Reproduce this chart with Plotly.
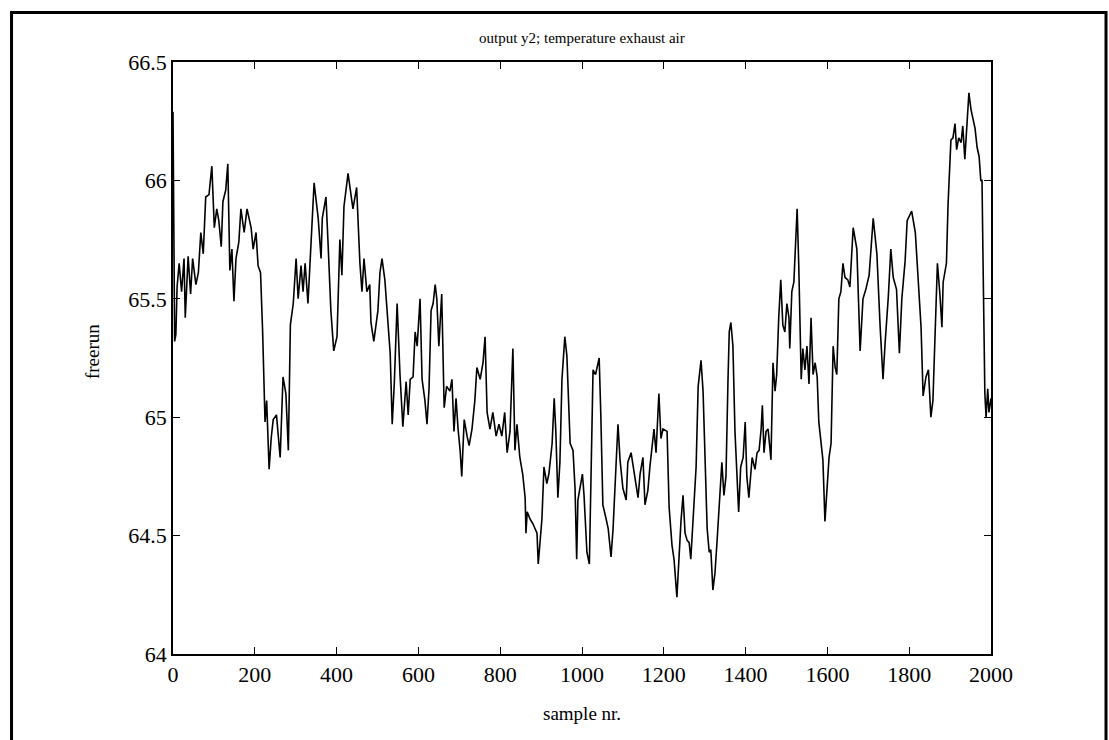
import plotly.graph_objects as go

# sample index and freerun output y2 (temperature exhaust air)
sample_nr = [
    0, 2, 4, 7, 10, 15, 21, 27, 30, 37, 43, 48, 56, 62, 68, 74, 80, 88, 95, 101,
    107, 112, 118, 122, 129, 134, 139, 144, 149, 154, 161, 166, 174, 181, 191, 196, 203, 208, 214, 219,
    225, 229, 235, 240, 245, 253, 262, 269, 276, 282, 287, 294, 301, 306, 313, 318, 323, 330, 340, 345,
    355, 362, 365, 374, 379, 386, 393, 401, 408, 413, 418, 428, 440, 449, 457, 462, 467, 474, 481, 484,
    491, 501, 506, 511, 518, 525, 531, 536, 541, 548, 555, 562, 570, 575, 580, 587, 592, 597, 604, 609,
    616, 621, 626, 631, 636, 641, 645, 650, 657, 663, 669, 677, 682, 687, 692, 697, 702, 706, 712, 719,
    724, 731, 738, 743, 751, 758, 763, 768, 775, 782, 790, 797, 804, 811, 817, 824, 831, 836, 841, 848,
    855, 861, 863, 866, 873, 880, 890, 893, 897, 902, 907, 914, 919, 927, 932, 936, 941, 946, 951, 958,
    963, 971, 978, 983, 987, 990, 995, 1001, 1005, 1012, 1018, 1022, 1027, 1033, 1042, 1046, 1051, 1059, 1064, 1071,
    1076, 1083, 1088, 1093, 1100, 1108, 1112, 1120, 1125, 1132, 1137, 1142, 1149, 1154, 1161, 1166, 1171, 1176, 1181, 1188,
    1193, 1198, 1208, 1213, 1220, 1225, 1232, 1237, 1242, 1247, 1252, 1257, 1262, 1266, 1272, 1279, 1284, 1288, 1291, 1296,
    1301, 1306, 1311, 1315, 1320, 1325, 1330, 1337, 1342, 1347, 1352, 1357, 1360, 1364, 1369, 1374, 1379, 1383, 1388, 1394,
    1399, 1403, 1408, 1416, 1423, 1428, 1433, 1438, 1441, 1445, 1450, 1455, 1462, 1467, 1472, 1476, 1481, 1486, 1491, 1496,
    1501, 1506, 1508, 1513, 1518, 1523, 1526, 1530, 1533, 1536, 1540, 1545, 1550, 1555, 1560, 1565, 1570, 1575, 1579, 1584,
    1589, 1594, 1599, 1604, 1609, 1614, 1619, 1623, 1628, 1633, 1638, 1643, 1650, 1655, 1663, 1672, 1680, 1687, 1694, 1702,
    1712, 1721, 1729, 1736, 1741, 1749, 1755, 1761, 1769, 1776, 1782, 1790, 1795, 1806, 1815, 1820, 1829, 1834, 1841, 1847,
    1853, 1858, 1864, 1869, 1875, 1880, 1883, 1891, 1895, 1897, 1902, 1907, 1912, 1916, 1921, 1927, 1931, 1936, 1941, 1946,
    1951, 1956, 1961, 1966, 1971, 1975, 1978, 1981, 1985, 1988, 1992, 1995, 2000,
]

freerun = [
    66.29, 65.80, 65.32, 65.35, 65.55, 65.65, 65.53, 65.67, 65.42, 65.68, 65.52, 65.67, 65.56, 65.61, 65.78, 65.69, 65.93, 65.94, 66.06, 65.80,
    65.88, 65.83, 65.72, 65.91, 65.96, 66.07, 65.62, 65.71, 65.49, 65.67, 65.74, 65.88, 65.78, 65.88, 65.80, 65.71, 65.78, 65.64, 65.61, 65.37,
    64.98, 65.07, 64.78, 64.91, 64.99, 65.01, 64.83, 65.17, 65.10, 64.86, 65.39, 65.48, 65.67, 65.50, 65.64, 65.53, 65.65, 65.48, 65.80, 65.99,
    65.84, 65.67, 65.84, 65.93, 65.74, 65.45, 65.28, 65.34, 65.75, 65.60, 65.89, 66.03, 65.88, 65.97, 65.65, 65.53, 65.67, 65.53, 65.56, 65.40,
    65.32, 65.45, 65.61, 65.67, 65.58, 65.40, 65.27, 64.97, 65.14, 65.48, 65.18, 64.96, 65.15, 65.01, 65.16, 65.17, 65.36, 65.30, 65.50, 65.16,
    65.07, 64.97, 65.12, 65.45, 65.48, 65.56, 65.50, 65.30, 65.52, 65.04, 65.13, 65.11, 65.16, 64.94, 65.08, 64.95, 64.86, 64.75, 64.99, 64.92,
    64.88, 64.95, 65.07, 65.21, 65.16, 65.23, 65.34, 65.02, 64.95, 65.02, 64.92, 64.97, 64.92, 65.02, 64.85, 64.94, 65.29, 64.86, 64.97, 64.83,
    64.76, 64.66, 64.51, 64.60, 64.57, 64.55, 64.51, 64.38, 64.48, 64.57, 64.79, 64.72, 64.76, 64.89, 65.08, 64.94, 64.66, 64.81, 65.16, 65.34,
    65.26, 64.89, 64.86, 64.70, 64.40, 64.65, 64.70, 64.76, 64.67, 64.43, 64.38, 64.72, 65.20, 65.18, 65.25, 65.01, 64.63, 64.57, 64.53, 64.41,
    64.53, 64.79, 64.97, 64.82, 64.70, 64.65, 64.81, 64.85, 64.79, 64.72, 64.66, 64.76, 64.83, 64.63, 64.69, 64.79, 64.86, 64.95, 64.85, 65.10,
    64.91, 64.95, 64.94, 64.62, 64.46, 64.40, 64.24, 64.43, 64.56, 64.67, 64.51, 64.48, 64.47, 64.40, 64.59, 64.79, 65.13, 65.21, 65.24, 65.11,
    64.86, 64.53, 64.43, 64.44, 64.27, 64.34, 64.47, 64.67, 64.81, 64.67, 64.75, 65.16, 65.36, 65.40, 65.30, 64.94, 64.72, 64.60, 64.79, 64.83,
    64.98, 64.75, 64.66, 64.83, 64.78, 64.85, 64.86, 64.95, 65.05, 64.85, 64.94, 64.95, 64.82, 65.23, 65.11, 65.18, 65.42, 65.58, 65.39, 65.36,
    65.48, 65.42, 65.29, 65.53, 65.57, 65.78, 65.88, 65.64, 65.30, 65.16, 65.29, 65.20, 65.30, 65.14, 65.42, 65.18, 65.23, 65.17, 64.98, 64.91,
    64.82, 64.56, 64.72, 64.83, 64.89, 65.30, 65.21, 65.18, 65.50, 65.53, 65.65, 65.59, 65.58, 65.55, 65.80, 65.71, 65.28, 65.50, 65.54, 65.60,
    65.84, 65.69, 65.38, 65.16, 65.31, 65.51, 65.71, 65.59, 65.54, 65.27, 65.50, 65.66, 65.83, 65.87, 65.78, 65.62, 65.38, 65.09, 65.17, 65.20,
    65.00, 65.07, 65.41, 65.65, 65.52, 65.38, 65.57, 65.65, 65.90, 65.97, 66.17, 66.18, 66.24, 66.13, 66.18, 66.16, 66.23, 66.09, 66.26, 66.37,
    66.30, 66.26, 66.22, 66.14, 66.10, 66.00, 66.00, 65.60, 65.10, 65.00, 65.12, 65.02, 65.08,
]

x_ticks = [0, 200, 400, 600, 800, 1000, 1200, 1400, 1600, 1800, 2000]
x_tick_labels = ["0", "200", "400", "600", "800", "1000", "1200", "1400", "1600", "1800", "2000"]
y_ticks = [64, 64.5, 65, 65.5, 66, 66.5]
y_tick_labels = ["64", "64.5", "65", "65.5", "66", "66.5"]

title_text = "output y2; temperature exhaust air"
x_label = "sample nr."
y_label = "freerun"

SERIF = "Liberation Serif, Times New Roman, serif"

fig = go.Figure()
fig.add_trace(go.Scatter(
    x=sample_nr, y=freerun, mode="lines",
    line=dict(color="black", width=1.6),
    showlegend=False, hoverinfo="skip",
))

axis_common = dict(
    showline=True, linecolor="black", linewidth=1.6, mirror="ticks",
    ticks="inside", ticklen=7, tickwidth=1.2, tickcolor="black",
    showgrid=False, zeroline=False,
    tickfont=dict(family=SERIF, size=22, color="black"),
)

fig.update_layout(
    width=1109, height=740,
    margin=dict(l=173, r=118, t=62, b=86),
    paper_bgcolor="white", plot_bgcolor="white",
    xaxis=dict(range=[0, 2000], tickmode="array", tickvals=x_ticks, ticktext=x_tick_labels,
               **axis_common),
    yaxis=dict(range=[64, 66.5], tickmode="array", tickvals=y_ticks, ticktext=y_tick_labels,
               **axis_common),
    annotations=[
        dict(text=title_text, x=0.5, y=1.0405, xref="paper", yref="paper",
             xanchor="center", yanchor="middle", showarrow=False,
             font=dict(family=SERIF, size=15, color="black")),
        dict(text=x_label, x=0.5, y=-0.101, xref="paper", yref="paper",
             xanchor="center", yanchor="middle", showarrow=False,
             font=dict(family=SERIF, size=19, color="black")),
        dict(text=y_label, x=-0.099, y=0.51, xref="paper", yref="paper",
             xanchor="center", yanchor="middle", showarrow=False, textangle=-90,
             font=dict(family=SERIF, size=19, color="black")),
    ],
    shapes=[
        dict(type="path", xref="paper", yref="paper",
             path="M -0.1974,-0.18 L -0.1974,1.0836 L 1.1406,1.0836 L 1.1406,-0.18",
             line=dict(color="black", width=3)),
    ],
)

fig.write_html("out.html")
